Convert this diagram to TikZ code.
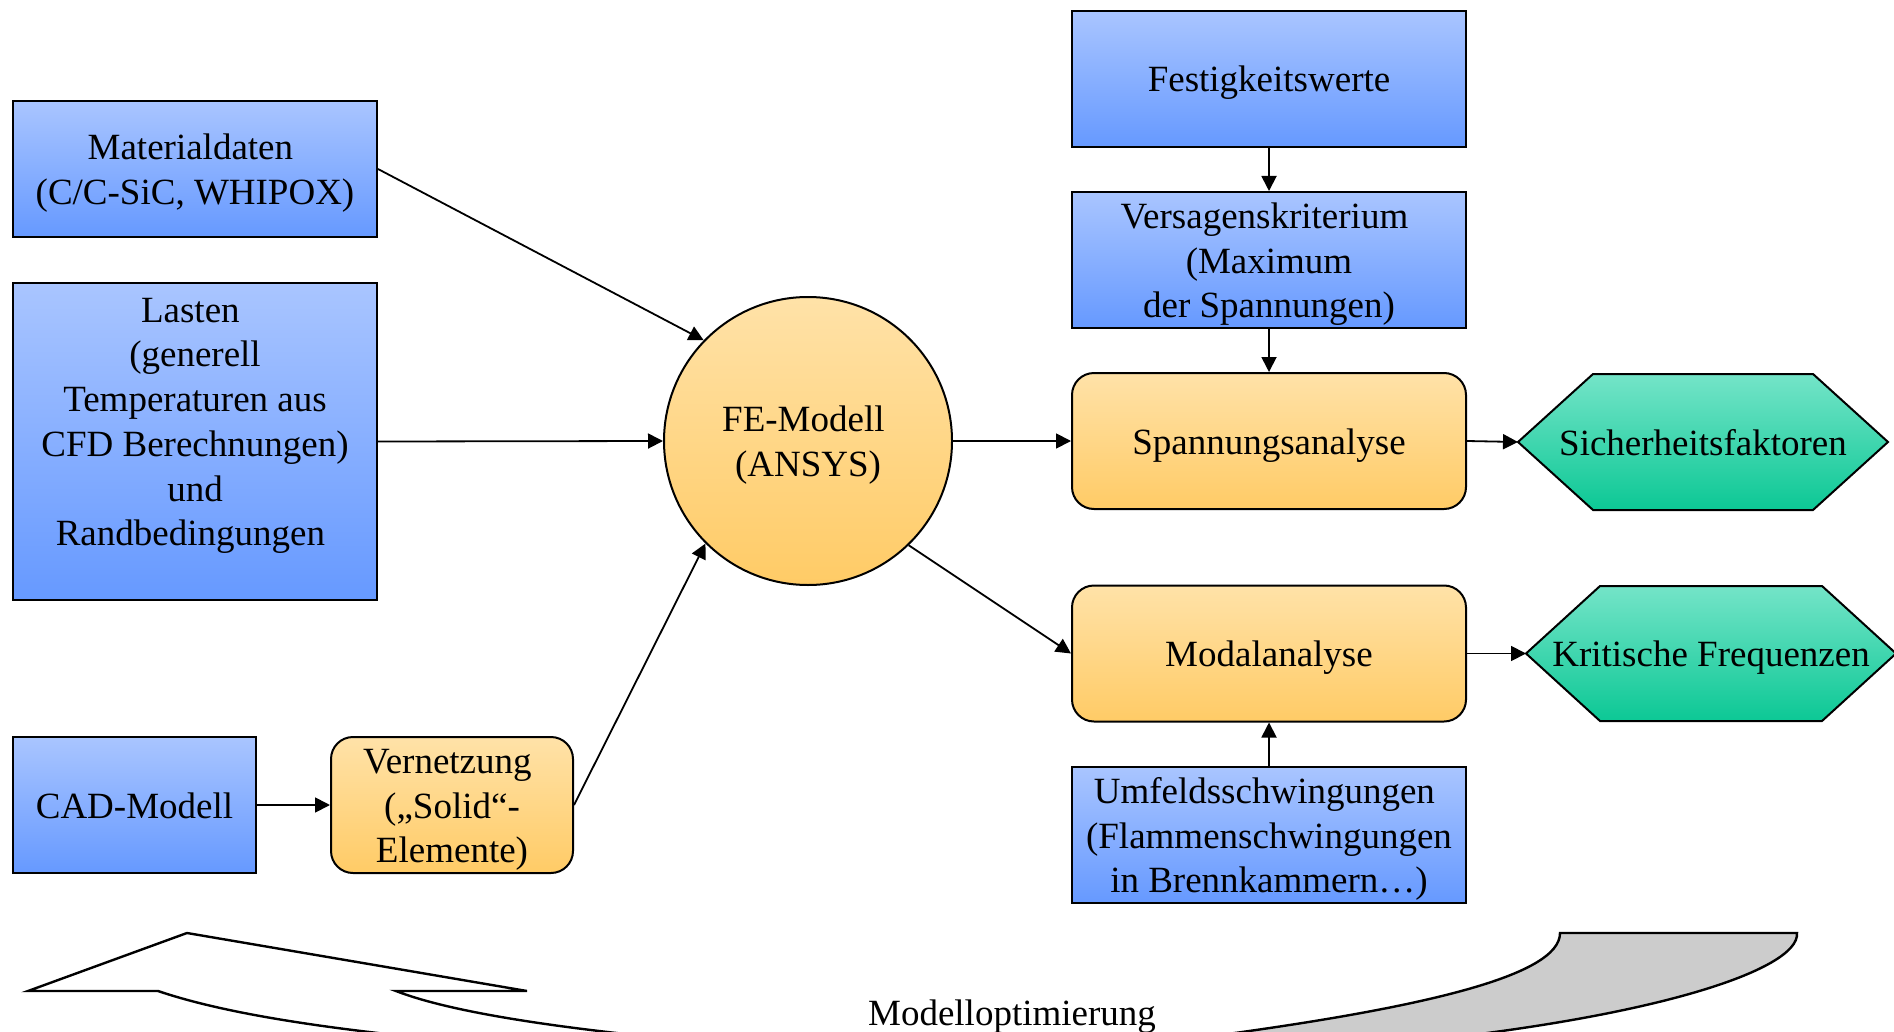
\documentclass[tikz,border=0pt]{standalone}
\usepackage{fontspec}
\setmainfont{Liberation Serif}
\usetikzlibrary{arrows.meta}
\definecolor{blueT}{HTML}{A9C5FF}
\definecolor{blueB}{HTML}{6699FF}
\definecolor{orT}{HTML}{FFE2A8}
\definecolor{orB}{HTML}{FFCB66}
\definecolor{grT}{HTML}{74E4C8}
\definecolor{grB}{HTML}{0CC895}
\newcommand\trsp{\hspace*{0.25em}}
\newcommand\topstr{\rule{0pt}{18pt}}
\newcommand\botstr{\rule[-5pt]{0pt}{5pt}}
\begin{document}
\begin{tikzpicture}[x=0.5pt,y=-0.5pt,
  font=\fontsize{18.5}{22.35}\selectfont,
  bluebox/.style={draw, line width=1pt, top color=blueT, bottom color=blueB, inner sep=0pt, align=center},
  orbox/.style={draw, line width=1pt, top color=orT, bottom color=orB, rounded corners=11pt, inner sep=0pt, align=center},
  conn/.style={line width=0.9pt, -{Triangle[length=7.5pt,width=7.5pt]}},
  hexa/.style={draw, line width=1pt, top color=grT, bottom color=grB},
  bigarrow/.style={draw, line width=1.2pt, line join=miter}]
\useasboundingbox[fill=white] (0,0) rectangle (1894,1032);

% bottom optimisation arrows
\begin{scope}
\clip (0,0) rectangle (1894,1032);
\path[bigarrow, fill=white] (396,991) -- (527,991) -- (187,933) -- (28,991) -- (158,991)
  .. controls (220,1012) and (320,1030) .. (500,1045) -- (740,1045)
  .. controls (560,1030) and (450,1012) .. (396,991) -- cycle;
\path[bigarrow, fill=gray!40] (1560,933) -- (1797,933)
  .. controls (1800,970) and (1650,1020) .. (1380,1045) -- (1100,1050)
  .. controls (1430,1012) and (1560,975) .. (1560,933) -- cycle;
\end{scope}
\node (opt) at (1012,1012) {\topstr Modelloptimierung\botstr};

% left column
\node[bluebox, minimum width=182pt, minimum height=68pt] (mat) at (195,169) {\topstr Materialdaten\trsp\\(C/C-SiC, WHIPOX)\botstr};
\node[bluebox, minimum width=182pt, minimum height=158.5pt] (las) at (195,441.5) {};
\node[align=center, inner sep=0pt] (lastext) at (195,421) {\topstr Lasten\trsp\\(generell\trsp\\Temperaturen aus\trsp\\CFD Berechnungen)\\und\trsp\\Randbedingungen\trsp\botstr};
\node[bluebox, minimum width=121.5pt, minimum height=68pt] (cad) at (134.5,805) {\topstr CAD-Modell\botstr};
\node[orbox, minimum width=121pt, minimum height=68pt] (vern) at (452,805) {\topstr Vernetzung\trsp\\(„Solid“-\\Elemente)\botstr};

% FE model
\node[circle, draw, line width=1pt, top color=orT, bottom color=orB, minimum size=144pt, inner sep=0pt, align=center] (fe) at (808,441) {\topstr FE-Modell\trsp\\(ANSYS)\botstr};

% right column
\node[bluebox, minimum width=197pt, minimum height=68pt] (fest) at (1269,79) {\topstr Festigkeitswerte\botstr};
\node[bluebox, minimum width=197pt, minimum height=68pt] (vers) at (1269,260) {\topstr Versagenskriterium\trsp\\(Maximum\trsp\\der Spannungen)\botstr};
\node[orbox, minimum width=197pt, minimum height=68pt] (spann) at (1269,441) {\topstr Spannungsanalyse\botstr};
\node[orbox, minimum width=197pt, minimum height=68pt] (modal) at (1269,653.5) {\topstr Modalanalyse\botstr};
\node[bluebox, minimum width=197pt, minimum height=68pt] (umf) at (1269,835) {\topstr Umfeldsschwingungen\trsp\\(Flammenschwingungen\\in Brennkammern…)\botstr};

% result hexagons
\path[hexa] (1518,442) -- (1593,374) -- (1813,374) -- (1888,442) -- (1813,510) -- (1593,510) -- cycle;
\coordinate (sichtip) at (1518,442);
\node (sich) at (1703,442) {\topstr Sicherheitsfaktoren\botstr};
\path[hexa] (1526,653.5) -- (1600,586) -- (1822,586) -- (1896,653.5) -- (1822,721) -- (1600,721) -- cycle;
\coordinate (krittip) at (1526,653.5);
\node (krit) at (1711,653.5) {\topstr Kritische Frequenzen\botstr};

% connectors
\draw[conn] (mat.east) -- (fe.136);
\draw[conn] (las.east) -- (fe.west);
\draw[conn] (cad.east) -- (vern.west);
\draw[conn] (vern.east) -- (fe.225);
\draw[conn] (fe.east) -- (spann.west);
\draw[conn] (fe.-46) -- (modal.west);
\draw[conn] (fest.south) -- (vers.north);
\draw[conn] (vers.south) -- (spann.north);
\draw[conn] (umf.north) -- (modal.south);
\draw[conn] (spann.east) -- (sichtip);
\draw[conn] (modal.east) -- (krittip);
\end{tikzpicture}
\end{document}
